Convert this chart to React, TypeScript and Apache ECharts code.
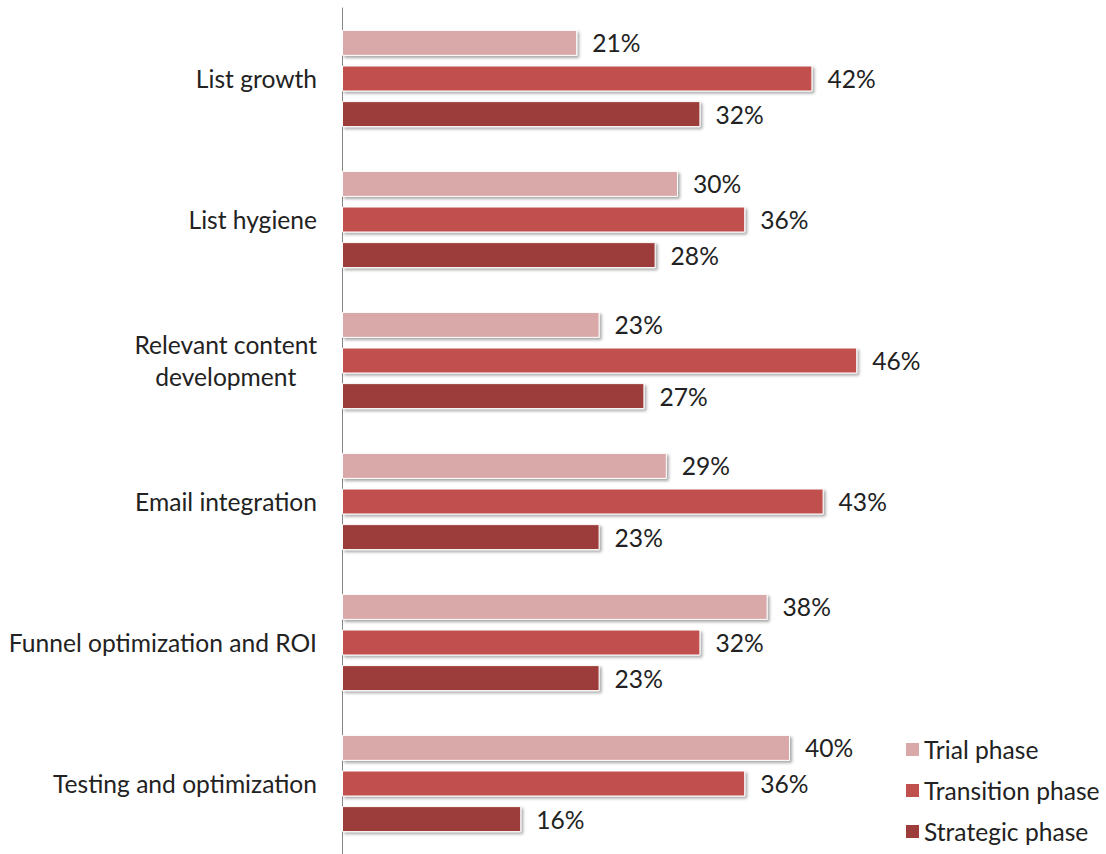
import React, { useEffect, useRef } from "react";
import * as echarts from "echarts";

const categories = [
  "List growth",
  "List hygiene",
  "Relevant content\ndevelopment",
  "Email integration",
  "Funnel optimization and ROI",
  "Testing and optimization",
];
const seriesNames = ["Trial phase", "Transition phase", "Strategic phase"];
const trial = [21, 30, 23, 29, 38, 40];
const transition = [42, 36, 46, 43, 32, 36];
const strategic = [32, 28, 27, 23, 23, 16];
const colors = ["#D9A9A9", "#C0504D", "#9C3D3B"];

const FONT = "Lato";
const FS = 24.6;

export default function App() {
  const ref = useRef<HTMLDivElement>(null);
  useEffect(() => {
    if (!ref.current) return;
    const chart = echarts.init(ref.current, null, { renderer: "svg" });
    const data = [trial, transition, strategic];
    chart.setOption({
      animation: false,
      textStyle: { fontFamily: FONT },
      grid: { left: 342, top: 8, width: 560, height: 851, containLabel: false },
      xAxis: {
        type: "value",
        min: 0,
        max: 50,
        show: false,
      },
      yAxis: {
        type: "category",
        inverse: true,
        data: categories,
        axisLine: { show: true, lineStyle: { color: "#868686", width: 1 } },
        axisTick: { show: false },
        axisLabel: {
          margin: 25,
          color: "#222",
          fontFamily: FONT,
          fontSize: FS,
          formatter: (v: string) =>
            v
              .split("\n")
              .map((s) => `{c|${s}}`)
              .join("\n"),
          rich: {
            c: {
              align: "center",
              fontSize: FS,
              fontFamily: FONT,
              color: "#222",
              lineHeight: 32,
            },
          },
        },
      },
      legend: {
        orient: "vertical",
        left: 901,
        top: 732,
        itemWidth: 13,
        itemHeight: 13,
        itemGap: 16,
        icon: "rect",
        textStyle: { fontSize: FS, color: "#222", fontFamily: FONT },
        itemStyle: { borderWidth: 0, shadowBlur: 0, shadowOffsetX: 0, shadowOffsetY: 0 },
        data: seriesNames,
      },
      series: seriesNames.map((name, i) => ({
        name,
        type: "bar",
        data: data[i],
        barWidth: 26,
        barGap: "37%",
        itemStyle: {
          color: colors[i],
          borderColor: "#fff",
          borderWidth: 1,
          shadowColor: "rgba(0,0,0,0.35)",
          shadowBlur: 3,
          shadowOffsetX: 2,
          shadowOffsetY: 2,
        },
        label: {
          show: true,
          position: "right",
          distance: 15,
          formatter: "{c}%",
          fontSize: FS,
          color: "#222",
          fontFamily: FONT,
        },
      })),
    });
    return () => chart.dispose();
  }, []);
  return (
    <div
      ref={ref}
      style={{ position: "absolute", left: 0, top: 0, width: 1106, height: 854 }}
    />
  );
}
